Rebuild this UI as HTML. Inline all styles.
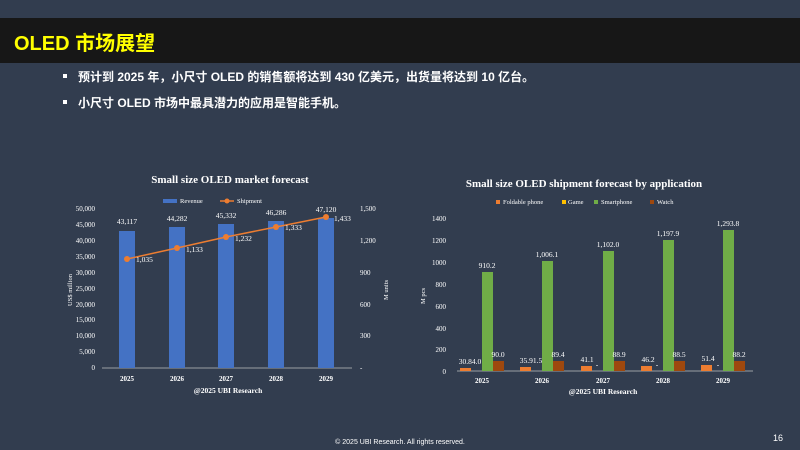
<!DOCTYPE html><html><head><meta charset="utf-8"><style>
body{margin:0;width:800px;height:450px;overflow:hidden;background:#323d4f;font-family:"Liberation Sans","Noto Sans CJK SC",sans-serif}
svg{position:absolute;left:0;top:0}
</style></head><body>
<svg width="800" height="450" xmlns="http://www.w3.org/2000/svg">
<rect width="800" height="450" fill="#323d4f"/>
<rect x="0" y="18" width="800" height="45" fill="#171717"/>
<text x="14" y="50" font-size="20" font-weight="bold" fill="#ffff00" font-family="Liberation Sans,Noto Sans CJK SC,sans-serif">OLED 市场展望</text>
<g fill="#fff" font-size="12" font-weight="bold" font-family="Liberation Sans,Noto Sans CJK SC,sans-serif">
<rect x="63" y="74" width="4" height="4"/><text x="78" y="81">预计到 2025 年，小尺寸 OLED 的销售额将达到 430 亿美元，出货量将达到 10 亿台。</text>
<rect x="63" y="100" width="4" height="4"/><text x="78" y="107">小尺寸 OLED 市场中最具潜力的应用是智能手机。</text>
</g>
<g font-family="Liberation Serif,serif" fill="#fff">
<text x="230" y="183" font-size="11" font-weight="bold" text-anchor="middle">Small size OLED market forecast</text>
<rect x="163" y="199" width="14" height="4" fill="#4472c4"/><text x="180" y="203" font-size="6.5">Revenue</text>
<line x1="220" y1="201" x2="234" y2="201" stroke="#ed7d31" stroke-width="1.5"/><circle cx="227" cy="201" r="2.5" fill="#ed7d31"/><text x="237" y="203" font-size="6.5">Shipment</text>
<g font-size="7" text-anchor="end">
<text x="95" y="211">50,000</text><text x="95" y="227">45,000</text><text x="95" y="243">40,000</text><text x="95" y="259">35,000</text><text x="95" y="275">30,000</text><text x="95" y="291">25,000</text><text x="95" y="307">20,000</text><text x="95" y="322">15,000</text><text x="95" y="338">10,000</text><text x="95" y="354">5,000</text><text x="95" y="370">0</text>
</g>
<g font-size="7"><text x="360" y="211">1,500</text><text x="360" y="243">1,200</text><text x="360" y="275">900</text><text x="360" y="307">600</text><text x="360" y="338">300</text><text x="360" y="370">-</text></g>
<text transform="translate(72,290) rotate(-90)" font-size="6.5" text-anchor="middle">US$ million</text>
<text transform="translate(388,290) rotate(-90)" font-size="6.5" text-anchor="middle">M units</text>
<line x1="102" y1="368" x2="352" y2="368" stroke="#bfbfbf" stroke-width="0.8"/>
<g fill="#4472c4"><rect x="119" y="231" width="16" height="137"/><rect x="169" y="227" width="16" height="141"/><rect x="218" y="224" width="16" height="144"/><rect x="268" y="221" width="16" height="147"/><rect x="318" y="218" width="16" height="150"/></g>
<g font-size="7.5" text-anchor="middle"><text x="127" y="224">43,117</text><text x="177" y="221">44,282</text><text x="226" y="218">45,332</text><text x="276" y="215">46,286</text><text x="326" y="212">47,120</text></g>
<polyline points="127,259 177,248 226,237 276,227 326,217" fill="none" stroke="#ed7d31" stroke-width="1.5"/>
<g fill="#ed7d31"><circle cx="127" cy="259" r="3"/><circle cx="177" cy="248" r="3"/><circle cx="226" cy="237" r="3"/><circle cx="276" cy="227" r="3"/><circle cx="326" cy="217" r="3"/></g>
<g font-size="7.5"><text x="136" y="262">1,035</text><text x="186" y="252">1,133</text><text x="235" y="241">1,232</text><text x="285" y="230">1,333</text><text x="334" y="221">1,433</text></g>
<g font-size="7" font-weight="bold" text-anchor="middle"><text x="127" y="381">2025</text><text x="177" y="381">2026</text><text x="226" y="381">2027</text><text x="276" y="381">2028</text><text x="326" y="381">2029</text></g>
<text x="228" y="393" font-size="7.5" font-weight="bold" text-anchor="middle">@2025 UBI Research</text>

<text x="584" y="187" font-size="11" font-weight="bold" text-anchor="middle">Small size OLED shipment forecast by application</text>
<g font-size="6.5"><rect x="496" y="200" width="4" height="4" fill="#ed7d31"/><text x="503" y="204">Foldable phone</text>
<rect x="562" y="200" width="4" height="4" fill="#ffc000"/><text x="568" y="204">Game</text>
<rect x="594" y="200" width="4" height="4" fill="#70ad47"/><text x="601" y="204">Smartphone</text>
<rect x="650" y="200" width="4" height="4" fill="#9e480e"/><text x="657" y="204">Watch</text></g>
<g font-size="7" text-anchor="end"><text x="446" y="221">1400</text><text x="446" y="243">1200</text><text x="446" y="265">1000</text><text x="446" y="287">800</text><text x="446" y="309">600</text><text x="446" y="331">400</text><text x="446" y="352">200</text><text x="446" y="374">0</text></g>
<text transform="translate(425,296) rotate(-90)" font-size="6.5" text-anchor="middle">M pcs</text>
<line x1="457" y1="371" x2="753" y2="371" stroke="#bfbfbf" stroke-width="0.8"/>
<g fill="#ed7d31"><rect x="460" y="368" width="11" height="3"/><rect x="520" y="367" width="11" height="4"/><rect x="581" y="366" width="11" height="5"/><rect x="641" y="366" width="11" height="5"/><rect x="701" y="365" width="11" height="6"/></g>
<g fill="#70ad47"><rect x="482" y="272" width="11" height="99"/><rect x="542" y="261" width="11" height="110"/><rect x="603" y="251" width="11" height="120"/><rect x="663" y="240" width="11" height="131"/><rect x="723" y="230" width="11" height="141"/></g>
<g fill="#9e480e"><rect x="493" y="361" width="11" height="10"/><rect x="553" y="361" width="11" height="10"/><rect x="614" y="361" width="11" height="10"/><rect x="674" y="361" width="11" height="10"/><rect x="734" y="361" width="11" height="10"/></g>
<g font-size="7.5" text-anchor="middle">
<text x="487" y="268">910.2</text><text x="547" y="257">1,006.1</text><text x="608" y="247">1,102.0</text><text x="668" y="236">1,197.9</text><text x="728" y="226">1,293.8</text>
<text x="498" y="357">90.0</text><text x="558" y="357">89.4</text><text x="619" y="357">88.9</text><text x="679" y="357">88.5</text><text x="739" y="357">88.2</text>
<text x="470" y="364">30.84.0</text><text x="531" y="363">35.91.5</text><text x="587" y="362">41.1</text><text x="648" y="362">46.2</text><text x="708" y="361">51.4</text>
<text x="597" y="367">-</text><text x="657" y="367">-</text><text x="718" y="367">-</text></g>
<g font-size="7" font-weight="bold" text-anchor="middle"><text x="482" y="383">2025</text><text x="542" y="383">2026</text><text x="603" y="383">2027</text><text x="663" y="383">2028</text><text x="723" y="383">2029</text></g>
<text x="603" y="394" font-size="7.5" font-weight="bold" text-anchor="middle">@2025 UBI Research</text>
</g>
<text x="400" y="444" font-size="7" fill="#fff" text-anchor="middle">© 2025 UBI Research. All rights reserved.</text>
<text x="778" y="441" font-size="9" fill="#fff" text-anchor="middle">16</text>
</svg>
</body></html>
